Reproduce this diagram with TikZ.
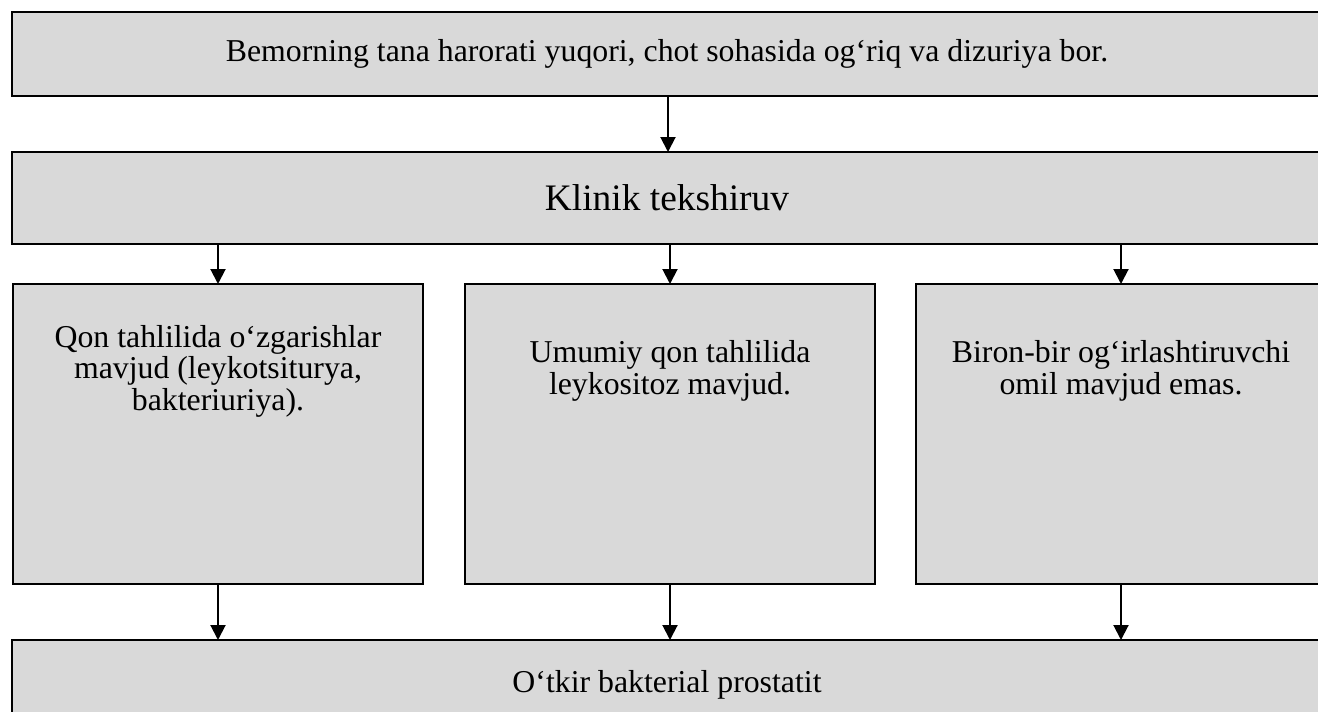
\documentclass[tikz,border=0pt]{standalone}
\usepackage{fontspec}
\setmainfont{Liberation Serif}
\usepackage{tikz}
\usetikzlibrary{arrows.meta}

\begin{document}
\begin{tikzpicture}[
    x=0.5pt, y=-0.5pt,
    widebox/.style={rectangle, draw, fill=boxgray, line width=1pt, minimum width=655pt, outer sep=0pt, font=\fontsize{15.9}{17}\selectfont},
    tallbox/.style={rectangle, draw, fill=boxgray, line width=1pt, minimum width=205pt, minimum height=150pt, outer sep=0pt},
    boxtext/.style={align=center, font=\fontsize{15.9}{15.8}\selectfont, inner sep=0pt},
    arrow/.style={-{Triangle[width=7.5pt, length=7.5pt]}, line width=1pt},
]
\definecolor{boxgray}{HTML}{D9D9D9}
\useasboundingbox (0,0) rectangle (1318,712);

% ===== TOP =====
\node[widebox, minimum height=42pt] (symptom) at (667,54) {Bemorning tana harorati yuqori, chot sohasida og‘riq va dizuriya bor.};
\node[widebox, minimum height=46pt, font=\fontsize{18.7}{20}\selectfont] (exam) at (667,198) {Klinik tekshiruv};

\draw[arrow] (symptom.south -| 668,0) -- (exam.north -| 668,0);

% ===== FINDINGS =====
\node[tallbox] (blood) at (218,434) {};
\node[tallbox] (cbc) at (670,434) {};
\node[tallbox] (none) at (1121,434) {};

\node[boxtext] (bloodtxt) at (218,371) {Qon tahlilida o‘zgarishlar\\mavjud (leykotsiturya,\\bakteriuriya).};
\node[boxtext] (cbctxt) at (670,371) {Umumiy qon tahlilida\\leykositoz mavjud.};
\node[boxtext] (nonetxt) at (1121,371) {Biron-bir og‘irlashtiruvchi\\omil mavjud emas.};

\draw[arrow] (exam.south -| blood) -- (blood.north);
\draw[arrow] (exam.south -| cbc) -- (cbc.north);
\draw[arrow] (exam.south -| none) -- (none.north);

% ===== DIAGNOSIS =====
\node[widebox, minimum height=45pt] (diag) at (667,685) {O‘tkir bakterial prostatit};

\draw[arrow] (blood.south) -- (diag.north -| blood);
\draw[arrow] (cbc.south) -- (diag.north -| cbc);
\draw[arrow] (none.south) -- (diag.north -| none);

\end{tikzpicture}
\end{document}
